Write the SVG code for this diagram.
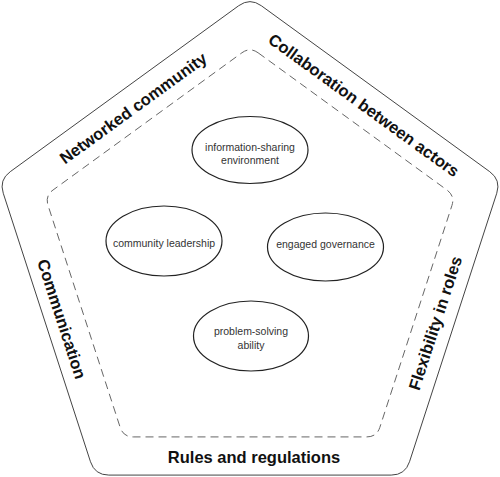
<svg xmlns="http://www.w3.org/2000/svg" width="500" height="477" viewBox="0 0 500 477">
<style>
.outer{fill:none;stroke:#444;stroke-width:1}
.inner{fill:none;stroke:#666;stroke-width:1;stroke-dasharray:8 5}
.lbl{font-family:"Liberation Sans",Arial,sans-serif;font-weight:bold;font-size:16.5px;fill:#111;text-anchor:middle}
.node ellipse{fill:#fff;stroke:#222;stroke-width:1.2}
.node text{font-family:"Liberation Sans",Arial,sans-serif;font-size:10.5px;fill:#333;text-anchor:middle}
</style>
<rect width="500" height="477" fill="#fff"/>
<g id="frame">
<path class="outer" d="M261.32,5.73 L489.76,171.69 Q501.08,179.92 496.75,193.23 L409.51,461.77 Q405.18,475.08 391.18,475.08 L108.82,475.08 Q94.82,475.08 90.49,461.77 L3.25,193.23 Q-1.08,179.92 10.24,171.69 L238.68,5.73 Q250,-2.5 261.32,5.73 Z"/>
<path class="inner" d="M258.09,52.78 L446.96,190 Q455.05,195.88 451.96,205.39 L379.82,427.41 Q376.73,436.92 366.73,436.92 L133.27,436.92 Q123.27,436.92 120.18,427.41 L48.04,205.39 Q44.95,195.88 53.04,190 L241.91,52.78 Q250,46.9 258.09,52.78 Z"/>
</g>
<g id="labels">
<text class="lbl" transform="translate(133,108) rotate(-36)" y="6">Networked community</text>
<text class="lbl" transform="translate(364,105) rotate(36)" y="6">Collaboration between actors</text>
<text class="lbl" transform="translate(62,319) rotate(72)" y="6">Communication</text>
<text class="lbl" transform="translate(435,323) rotate(-72)" y="6">Flexibility in roles</text>
<text class="lbl" x="254" y="463">Rules and regulations</text>
</g>
<g id="connectors"></g>
<g id="n1" class="node">
<ellipse cx="250" cy="150" rx="58" ry="33.5"/>
<text x="250" y="150.5">information-sharing</text>
<text x="250" y="163.5">environment</text>
</g>
<g id="n2" class="node">
<ellipse cx="164" cy="241" rx="58" ry="35"/>
<text x="164" y="246.5">community leadership</text>
</g>
<g id="n3" class="node">
<ellipse cx="325.5" cy="247" rx="58" ry="34"/>
<text x="325.5" y="247.5">engaged governance</text>
</g>
<g id="n4" class="node">
<ellipse cx="251" cy="336" rx="57.5" ry="35"/>
<text x="251" y="334.5">problem-solving</text>
<text x="251" y="348.5">ability</text>
</g>
</svg>
